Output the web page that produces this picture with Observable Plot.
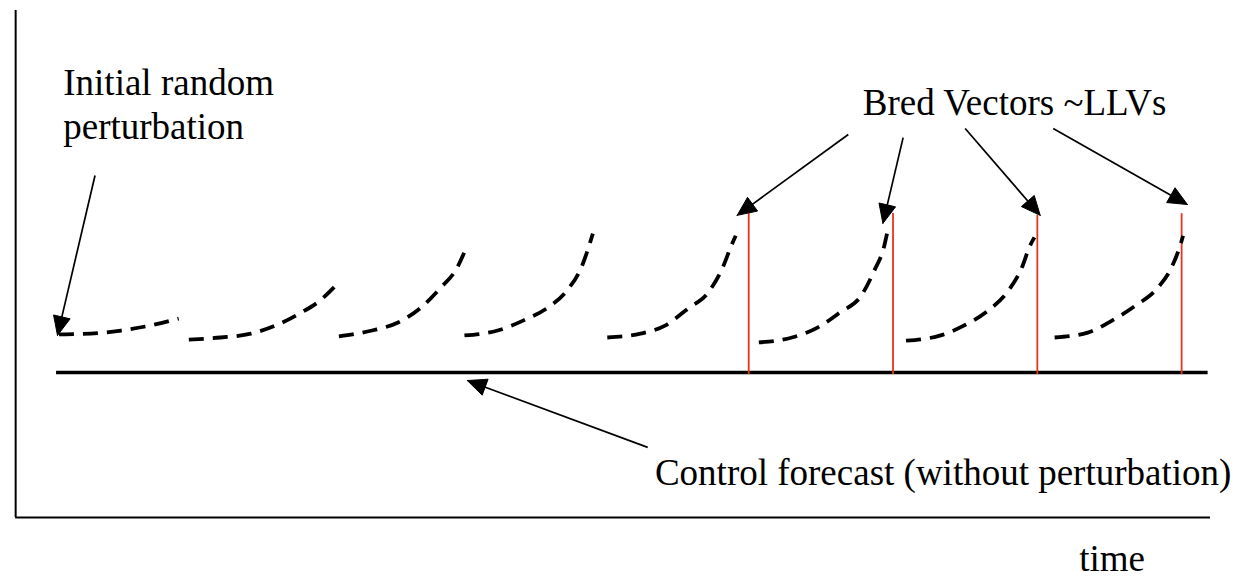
<!DOCTYPE html>
<html><head><meta charset="utf-8">
<script src="https://cdn.jsdelivr.net/npm/d3@7"></script>
<script src="https://cdn.jsdelivr.net/npm/@observablehq/plot@0.6"></script>
<style>html,body{margin:0;padding:0;background:#fff;overflow:hidden}</style>
</head><body><div id="chart"></div>
<script>
// Time is measured in breeding cycles, amplitude in units of the rescaled perturbation size
const xDomain = [-1.185, 7.401];
const yDomain = [-5.971, 10.629];

// Dashed perturbation growth, one series per breeding cycle
const perturbT = [
  [-0.78, -0.56, -0.35, -0.15, 0.05],
  [0.12, 0.34, 0.55, 0.72, 0.89, 1.03, 1.14],
  [1.16, 1.39, 1.57, 1.73, 1.86, 1.98, 2.04],
  [2.03, 2.26, 2.44, 2.61, 2.74, 2.84, 2.92],
  [3.02, 3.25, 3.42, 3.58, 3.72, 3.82, 3.88, 3.91],
  [4.07, 4.30, 4.48, 4.63, 4.78, 4.87, 4.94, 4.96],
  [5.09, 5.33, 5.49, 5.66, 5.80, 5.89, 5.95, 5.98],
  [6.12, 6.35, 6.52, 6.68, 6.83, 6.93, 6.99, 7.01]
];
const perturbA = [
  [1.09, 1.11, 1.20, 1.34, 1.54],
  [0.94, 1.00, 1.11, 1.34, 1.69, 2.06, 2.49],
  [1.03, 1.20, 1.43, 1.86, 2.40, 3.00, 3.54],
  [1.06, 1.20, 1.49, 1.86, 2.34, 3.00, 3.97],
  [1.00, 1.11, 1.34, 1.83, 2.29, 3.00, 3.63, 3.91],
  [0.86, 1.00, 1.29, 1.71, 2.20, 2.91, 3.63, 4.00],
  [0.91, 1.06, 1.34, 1.77, 2.34, 2.97, 3.63, 3.86],
  [1.00, 1.14, 1.49, 1.91, 2.40, 3.00, 3.63, 3.91]
];

// Control forecast
const controlT = [-0.80, 7.18];
const controlA = [0, 0];

// Bred vectors (red)
const bredT = [4, 5, 6, 7];
const bredLow = [-0.06, -0.06, -0.06, -0.06];
const bredHigh = [4.54, 4.54, 4.49, 4.54];

// Frame
const frameT = [-1.08, 7.20];
const frameA = [-4.14, 10.34];

// Annotation arrows
const arrowFromT = [-0.53, 4.69, 5.07, 5.50, 6.11, 3.30];
const arrowFromA = [5.63, 6.80, 6.71, 6.97, 6.97, -2.14];
const arrowToT = [-0.79, 3.92, 4.93, 6.02, 7.04, 2.05];
const arrowToA = [1.06, 4.49, 4.26, 4.49, 4.80, -0.23];

// Labels
const labelText = ["Initial random\nperturbation", "Bred Vectors ~LLVs", "Control forecast (without perturbation)", "time"];
const labelT = [-0.75, 4.79, 3.35, 6.29];
const labelA = [7.69, 7.77, -2.80, -5.26];

const W = 1239, H = 581;
const xs = d3.scaleLinear(xDomain, [0, W]);
const ys = d3.scaleLinear(yDomain, [H, 0]);

const perturbData = perturbT.flatMap((ts, i) => ts.map((t, j) => ({t, a: perturbA[i][j], s: i})));
const arrows = arrowFromT.map((t, i) => ({t1: t, a1: arrowFromA[i], t2: arrowToT[i], a2: arrowToA[i], id: i}));

// arrowheads built in screen space from the scales, then mapped back to data
const headLen = 19, headW = 17;
const heads = [];
const shafts = [];
arrows.forEach(d => {
  const x1 = xs(d.t1), y1 = ys(d.a1), x2 = xs(d.t2), y2 = ys(d.a2);
  const L = Math.hypot(x2 - x1, y2 - y1);
  const ux = (x2 - x1) / L, uy = (y2 - y1) / L;
  const bx = x2 - headLen * ux, by = y2 - headLen * uy;
  const nx = -uy, ny = ux;
  const pts = [[x2, y2], [bx + nx * headW / 2, by + ny * headW / 2], [bx - nx * headW / 2, by - ny * headW / 2], [x2, y2]];
  pts.forEach(p => heads.push({t: xs.invert(p[0]), a: ys.invert(p[1]), id: d.id}));
  shafts.push({t1: d.t1, a1: d.a1, t2: xs.invert(bx + 2 * ux), a2: ys.invert(by + 2 * uy)});
});

const chart = Plot.plot({
  width: W, height: H, margin: 0,
  x: {domain: xDomain, axis: null},
  y: {domain: yDomain, axis: null},
  style: {background: "white", fontFamily: "'Liberation Serif', 'Times New Roman', serif"},
  marks: [
    Plot.ruleX([frameT[0]], {y1: frameA[0], y2: frameA[1], stroke: "#000", strokeWidth: 2}),
    Plot.ruleY([frameA[0]], {x1: frameT[0], x2: frameT[1], stroke: "#000", strokeWidth: 2}),
    Plot.line(controlT.map((t, i) => ({t, a: controlA[i]})), {x: "t", y: "a", stroke: "#000", strokeWidth: 3.6, strokeLinecap: "butt"}),
    Plot.ruleX(bredT, {x: d => d, y1: (d, i) => bredLow[i], y2: (d, i) => bredHigh[i], stroke: "#e8341c", strokeWidth: 1.8}),
    Plot.line(perturbData, {x: "t", y: "a", z: "s", curve: "monotone-x", stroke: "#000", strokeWidth: 3.8, strokeDasharray: "15,9", strokeLinecap: "butt"}),
    Plot.link(shafts, {x1: "t1", y1: "a1", x2: "t2", y2: "a2", stroke: "#000", strokeWidth: 1.7}),
    Plot.line(heads, {x: "t", y: "a", z: "id", fill: "#000", stroke: "#000", strokeWidth: 1, curve: "linear"}),
    Plot.text(labelText, {x: (d, i) => labelT[i], y: (d, i) => labelA[i], text: d => d, textAnchor: "start", fontSize: 37, lineHeight: 1.19, fill: "#000"})
  ]
});
document.getElementById("chart").append(chart);
</script>
</body></html>
